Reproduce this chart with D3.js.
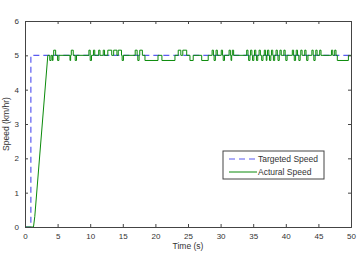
<!DOCTYPE html>
<html>
<head>
<meta charset="utf-8">
<script src="https://cdn.jsdelivr.net/npm/d3@7"></script>
<style>
  body { margin: 0; background: #fff; }
  text { font-family: "Liberation Sans", Arial, sans-serif; fill: #333; }
</style>
</head>
<body>
<svg id="chart" width="359" height="253"></svg>
<script>
// targeted speed (step at ~0.9 s)
const targetTime = [0, 0.9, 0.9, 50];
const targetSpeed = [0, 0, 5, 5];

// actual speed: ramp up, then hold around 5 with small blips
const rampTime = [0, 1.3, 1.5, 3.5];
const rampSpeed = [0, 0, 0.3, 5];
const baseSpeed = 5;
const blipHigh = 5.15;
const blipLow = 4.85;
const upBlips = [
  [4.4, 4.7], [7.1, 7.4], [9.8, 10.0], [10.5, 10.7], [11.3, 11.5], [12.0, 12.2],
  [12.7, 13.3], [13.6, 14.1], [14.3, 14.8], [16.9, 17.2], [17.6, 18.0],
  [23.5, 23.9], [24.2, 24.8], [28.7, 28.9], [29.3, 29.5], [30.1, 30.3],
  [31.3, 31.5], [31.8, 32.0], [34.0, 34.2], [34.6, 34.8], [35.2, 35.4],
  [35.9, 36.1], [36.7, 36.9], [37.2, 37.4], [37.8, 38.0], [38.5, 38.7],
  [39.1, 39.3], [39.7, 39.9], [41.0, 41.2], [41.6, 41.8], [42.3, 42.5],
  [42.9, 43.1], [44.0, 44.2], [44.6, 44.8], [45.2, 45.4], [47.0, 47.2], [47.5, 47.7]
];
const downBlips = [
  [3.8, 4.0], [4.2, 4.3], [5.0, 5.2], [6.9, 7.0], [7.7, 7.9], [10.0, 10.2],
  [14.9, 15.1], [17.3, 17.5], [18.4, 20.4], [21.0, 23.0], [25.3, 25.8],
  [27.1, 28.1], [29.0, 29.2], [30.4, 30.6], [31.6, 31.7], [34.3, 34.5],
  [34.9, 35.1], [35.5, 35.7], [36.3, 36.5], [37.0, 37.1], [37.5, 37.7],
  [38.1, 38.3], [38.8, 39.0], [40.0, 40.2], [41.3, 41.5], [42.0, 42.2],
  [43.2, 43.4], [44.3, 44.5], [47.9, 49.6]
];

const xTicks = d3.range(0, 51, 5);
const yTicks = [0, 1, 2, 3, 4, 5, 6];
const legendLabels = ["Targeted Speed", "Actural Speed"];

const margin = { left: 25, right: 8, top: 21, bottom: 26 };
const width = 359, height = 253;

const x = d3.scaleLinear().domain([0, 50]).range([margin.left, width - margin.right]);
const y = d3.scaleLinear().domain([0, 6]).range([height - margin.bottom, margin.top]);

const svg = d3.select("#chart");

// build actual speed step series
const blips = upBlips.map((b) => [b[0], b[1], blipHigh])
  .concat(downBlips.map((b) => [b[0], b[1], blipLow]))
  .sort((a, b) => a[0] - b[0]);
const hold = [[rampTime[3], baseSpeed]];
blips.forEach((b) => {
  hold.push([b[0], baseSpeed], [b[0], b[2]], [b[1], b[2]], [b[1], baseSpeed]);
});
hold.push([50, baseSpeed]);
const actual = rampTime.map((t, i) => [t, rampSpeed[i]]).concat(hold);
const target = targetTime.map((t, i) => [t, targetSpeed[i]]);

const line = d3.line().x((d) => x(d[0])).y((d) => y(d[1]));

svg.append("clipPath").attr("id", "clip")
  .append("rect")
  .attr("x", x(0)).attr("y", y(6))
  .attr("width", x(50) - x(0)).attr("height", y(0) - y(6));

const plot = svg.append("g").attr("clip-path", "url(#clip)");

plot.append("path")
  .attr("d", line(target))
  .attr("fill", "none")
  .attr("stroke", "#5a5af0")
  .attr("stroke-width", 1.2)
  .attr("stroke-dasharray", "6 4");

plot.append("path")
  .attr("d", line(actual))
  .attr("fill", "none")
  .attr("stroke", "#0a8a0a")
  .attr("stroke-width", 1);

// axes with inward ticks, box style
const axisColor = "#444";
const axisBottomG = svg.append("g")
  .attr("transform", `translate(0,${y(0)})`)
  .call(d3.axisBottom(x).tickValues(xTicks).tickSize(-3).tickPadding(6));
const axisTopG = svg.append("g")
  .attr("transform", `translate(0,${y(6)})`)
  .call(d3.axisTop(x).tickValues(xTicks).tickSize(-3).tickFormat(""));
const axisLeftG = svg.append("g")
  .attr("transform", `translate(${x(0)},0)`)
  .call(d3.axisLeft(y).tickValues(yTicks).tickSize(-3).tickPadding(6)
    .tickFormat(d3.format("d")));
const axisRightG = svg.append("g")
  .attr("transform", `translate(${x(50)},0)`)
  .call(d3.axisRight(y).tickValues(yTicks).tickSize(-3).tickFormat(""));

[axisBottomG, axisTopG, axisLeftG, axisRightG].forEach((g) => {
  g.select(".domain").attr("stroke", axisColor).attr("stroke-width", 1);
  g.selectAll(".tick line").attr("stroke", axisColor);
  g.selectAll("text").attr("font-size", 8).attr("fill", "#333")
    .attr("font-family", "Liberation Sans, Arial, sans-serif");
});

svg.append("text")
  .attr("x", (x(0) + x(50)) / 2)
  .attr("y", 249)
  .attr("text-anchor", "middle")
  .attr("font-size", 8.5)
  .text("Time (s)");

svg.append("text")
  .attr("transform", `translate(9,${(y(0) + y(6)) / 2}) rotate(-90)`)
  .attr("text-anchor", "middle")
  .attr("font-size", 8.5)
  .text("Speed (km/hr)");

// legend
const legend = svg.append("g").attr("transform", "translate(223,151)");
legend.append("rect")
  .attr("width", 101).attr("height", 28)
  .attr("fill", "#fff").attr("stroke", axisColor);
const legendStyles = [
  { stroke: "#5a5af0", dash: "6 4", width: 1.2 },
  { stroke: "#0a8a0a", dash: null, width: 1 }
];
legendLabels.forEach((label, i) => {
  const cy = 8 + i * 13;
  legend.append("line")
    .attr("x1", 6).attr("x2", 34).attr("y1", cy).attr("y2", cy)
    .attr("stroke", legendStyles[i].stroke)
    .attr("stroke-width", legendStyles[i].width)
    .attr("stroke-dasharray", legendStyles[i].dash);
  legend.append("text")
    .attr("x", 35).attr("y", cy).attr("dy", "0.35em")
    .attr("font-size", 8.5)
    .text(label);
});
</script>
</body>
</html>
